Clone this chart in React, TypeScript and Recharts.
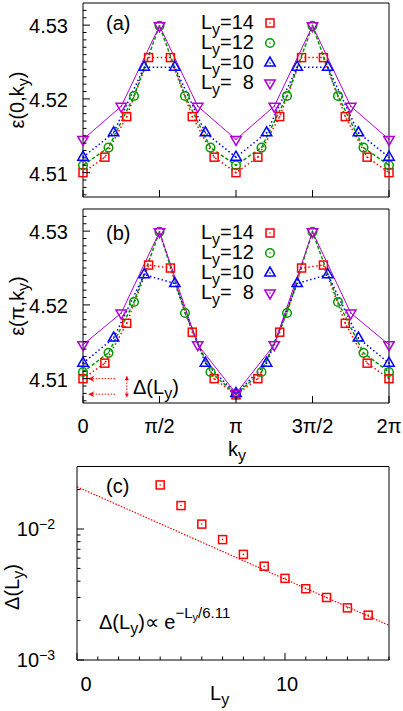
import React from "react";
import {
    LineChart,
    ComposedChart,
    Line,
    Scatter,
    XAxis,
    YAxis,
    Legend,
    ReferenceLine,
} from "recharts";

const PI = Math.PI;
const FONT = '"Liberation Sans", Arial, Helvetica, sans-serif';
const W = 403;

// system widths L_y shown in panels (a) and (b)
const sizes = [14, 12, 10, 8];

// panel (a): eps(0, k_y), point n sits at k_y = 2*pi*n/L_y
const epsZero14 = [4.51, 4.5121, 4.5176, 4.5256, 4.5256, 4.5176, 4.5121, 4.51, 4.5121, 4.5176, 4.5256, 4.5256, 4.5176, 4.5121, 4.51];
const epsZero12 = [4.511, 4.5134, 4.5204, 4.5299, 4.5204, 4.5134, 4.511, 4.5134, 4.5204, 4.5299, 4.5204, 4.5134, 4.511];
const epsZero10 = [4.5121, 4.5154, 4.5243, 4.5243, 4.5154, 4.5121, 4.5154, 4.5243, 4.5243, 4.5154, 4.5121];
const epsZero8 = [4.5145, 4.519, 4.5299, 4.519, 4.5145, 4.519, 4.5299, 4.519, 4.5145];

// panel (b): eps(pi, k_y)
const epsPi14 = [4.51, 4.5121, 4.5175, 4.5254, 4.525, 4.5163, 4.51, 4.5078, 4.51, 4.5163, 4.525, 4.5254, 4.5175, 4.5121, 4.51];
const epsPi12 = [4.5109, 4.5135, 4.5204, 4.5299, 4.5189, 4.5109, 4.5079, 4.5109, 4.5189, 4.5299, 4.5204, 4.5135, 4.5109];
const epsPi10 = [4.5121, 4.5155, 4.5241, 4.5229, 4.5121, 4.508, 4.5121, 4.5229, 4.5241, 4.5155, 4.5121];
const epsPi8 = [4.5146, 4.5189, 4.5299, 4.5146, 4.508, 4.5146, 4.5299, 4.5189, 4.5146];

// panel (c): gap vs L_y, and the exponential fit (straight on the log axis)
const gapSizes = [4, 5, 6, 7, 8, 9, 10, 11, 12, 13, 14];
const gapValues = [0.0217, 0.0151, 0.0109, 0.0083, 0.0064, 0.0052, 0.0042, 0.0035, 0.003, 0.0025, 0.0022];
const fitSizes = [0, 15];
const fitValues = [0.021, 0.00184];

// ticks
const kTicks = [0, PI / 2, PI, 1.5 * PI, 2 * PI];
const kTickLabels = ["0", "π/2", "π", "3π/2", "2π"];
const epsTicks = [4.51, 4.52, 4.53];
const epsDomain = [4.5067, 4.533];
const epsAllTicks = Array.from({ length: 26 }, (_, i) => (4507 + i) / 1000);
const gapTicks = [0.001, 0.01];
const gapTickExps = ["−3", "−2"];
const gapAllTicks = [0.001, 0.002, 0.003, 0.004, 0.005, 0.006, 0.007, 0.008, 0.009, 0.01, 0.02, 0.03];
const sizeTicks = [0, 10];
const sizeTickLabels = ["0", "10"];
const sizeAllTicks = Array.from({ length: 16 }, (_, i) => i);

type Shape = "square" | "circle" | "up" | "down";

const styles: Record<number, { color: string; shape: Shape; dash?: string; width: number }> = {
    14: { color: "#ff0000", shape: "square", dash: "1.5 2.5", width: 1.5 },
    12: { color: "#009a00", shape: "circle", dash: "3.5 2", width: 1.5 },
    10: { color: "#0000ff", shape: "up", dash: "1.5 2.5", width: 1.5 },
    8: { color: "#b000d0", shape: "down", width: 1 },
};

const Marker = ({ shape, cx, cy, color }: { shape: Shape; cx: number; cy: number; color: string }) => {
    const common = { fill: "none", stroke: color, strokeWidth: 1.5 };
    let body;
    if (shape === "square") body = <rect x={cx - 4} y={cy - 4} width={8} height={8} {...common} />;
    else if (shape === "circle") body = <circle cx={cx} cy={cy} r={4.3} {...common} />;
    else if (shape === "up")
        body = <polygon points={`${cx},${cy - 6} ${cx - 5.2},${cy + 3} ${cx + 5.2},${cy + 3}`} {...common} />;
    else body = <polygon points={`${cx},${cy + 6} ${cx - 5.2},${cy - 3} ${cx + 5.2},${cy - 3}`} {...common} />;
    return (
        <g>
            {body}
            <circle cx={cx} cy={cy} r={0.8} fill={color} />
        </g>
    );
};

type Side = "left" | "right" | "top" | "bottom";

// gnuplot-like ticks: drawn inward from the frame, minor ones shorter
const makeTick =
    (side: Side, majors: number[], label?: (v: number, x: number, y: number) => React.ReactNode) =>
    (props: any) => {
        const { x, y, payload } = props;
        const v = payload.value;
        const isMajor = majors.some((m) => Math.abs(m - v) < 1e-9);
        const len = isMajor ? 7 : 3.5;
        let x2 = x;
        let y2 = y;
        if (side === "left") x2 = x + len;
        if (side === "right") x2 = x - len;
        if (side === "bottom") y2 = y - len;
        if (side === "top") y2 = y + len;
        return (
            <g>
                <line x1={x} y1={y} x2={x2} y2={y2} stroke="#000" strokeWidth={1} />
                {isMajor && label ? label(v, x, y) : null}
            </g>
        );
    };

const txt = { fontFamily: FONT, fontSize: 20, fill: "#000" };

const epsLabel = (v: number, x: number, y: number) => (
    <text x={x - 15} y={y + 8} textAnchor="end" {...txt}>
        {v.toFixed(2)}
    </text>
);

const kLabel = (v: number, x: number, y: number) => {
    const i = kTicks.findIndex((t) => Math.abs(t - v) < 1e-9);
    return (
        <text x={x} y={y + 30} textAnchor="middle" {...txt}>
            {kTickLabels[i]}
        </text>
    );
};

const gapLabel = (v: number, x: number, y: number) => {
    const i = gapTicks.findIndex((t) => Math.abs(t - v) < 1e-12);
    return (
        <text x={x - 22} y={y + 7} textAnchor="end" {...txt}>
            10
            <tspan dy={-7} fontSize={14}>
                {gapTickExps[i]}
            </tspan>
        </text>
    );
};

const sizeLabel = (v: number, x: number, y: number) => {
    const i = sizeTicks.indexOf(v);
    return (
        <text x={x + (v === 0 ? 9 : 2)} y={y + 31} textAnchor="middle" {...txt}>
            {sizeTickLabels[i]}
        </text>
    );
};

// axes are 1px thick so recharts draws them; margins below account for that pixel
const axisLine = { stroke: "#000", strokeWidth: 1 };
const bare = { tickSize: 0, tickMargin: 0, tickLine: false, interval: 0 as const, axisLine };

const LegendBox = () => (
    <div style={{ fontFamily: FONT, fontSize: 20, color: "#000" }}>
        {sizes.map((L) => (
            <div key={L} style={{ display: "flex", alignItems: "center", height: 20 }}>
                <span style={{ width: 64, textAlign: "right", whiteSpace: "pre", lineHeight: "20px" }}>
                    L<span style={{ fontSize: 16, position: "relative", top: 6 }}>y</span>
                    {L < 10 ? `=  ${L}` : `=${L}`}
                </span>
                <svg width={32} height={20}>
                    <Marker shape={styles[L].shape} cx={16} cy={10} color={styles[L].color} />
                </svg>
            </div>
        ))}
    </div>
);

interface PanelProps {
    values: Record<number, number[]>;
    height: number;
    bottom: number;
    tag: string;
    tagY: number;
    legendTop: number;
    yTitle: React.ReactNode;
    withKLabels?: boolean;
    extra?: React.ReactNode;
}

const EnergyPanel = ({ values, height, bottom, tag, tagY, legendTop, yTitle, withKLabels, extra }: PanelProps) => (
    <LineChart width={W} height={height} margin={{ top: 2, right: 13, bottom: bottom - 1, left: 82 }}>
        <defs>
            <marker id="headL" viewBox="0 0 10 10" refX="9" refY="5" markerWidth="8" markerHeight="6"
                markerUnits="userSpaceOnUse" orient="auto-start-reverse">
                <path d="M0,0 L10,5 L0,10 L3,5 z" fill="#ff0000" />
            </marker>
            <marker id="headS" viewBox="0 0 10 10" refX="9" refY="5" markerWidth="5" markerHeight="4"
                markerUnits="userSpaceOnUse" orient="auto-start-reverse">
                <path d="M0,0 L10,5 L0,10 z" fill="#ff0000" />
            </marker>
        </defs>
        <XAxis xAxisId="k" dataKey="k" type="number" domain={[0, 2 * PI]} ticks={kTicks} height={1} {...bare}
            tick={makeTick("bottom", kTicks, withKLabels ? kLabel : undefined)} />
        <XAxis xAxisId="kTop" orientation="top" type="number" domain={[0, 2 * PI]} ticks={kTicks} height={1}
            {...bare} tick={makeTick("top", kTicks)} />
        <YAxis yAxisId="e" type="number" domain={epsDomain} ticks={epsAllTicks} width={1} {...bare}
            tick={makeTick("left", epsTicks, epsLabel)} />
        <YAxis yAxisId="eR" orientation="right" type="number" domain={epsDomain} ticks={epsAllTicks} width={1}
            {...bare} tick={makeTick("right", epsTicks)} />
        {sizes.map((L) => {
            const s = styles[L];
            return (
                <Line
                    key={L}
                    xAxisId="k"
                    yAxisId="e"
                    data={values[L].map((v, n) => ({ k: (2 * PI * n) / L, v }))}
                    dataKey="v"
                    type="linear"
                    stroke={s.color}
                    strokeWidth={s.width}
                    strokeDasharray={s.dash}
                    activeDot={false}
                    dot={(p: any) => <Marker key={p.index} shape={s.shape} cx={p.cx} cy={p.cy} color={s.color} />}
                    isAnimationActive={false}
                />
            );
        })}
        {extra}
        <Legend
            layout="vertical"
            align="center"
            verticalAlign="middle"
            wrapperStyle={{ left: 190, top: legendTop, width: 100, height: 82 }}
            content={() => <LegendBox />}
        />
        <text x={106} y={tagY} {...txt}>
            {tag}
        </text>
        {yTitle}
    </LineChart>
);

const arrowStyle = { stroke: "#ff0000", strokeWidth: 1, strokeDasharray: "1.5 1.5" };

const gapArrows = (
    <>
        <ReferenceLine xAxisId="k" yAxisId="e" segment={[{ x: 0.66, y: 4.51 }, { x: 0.12, y: 4.51 }]}
            {...arrowStyle} markerEnd="url(#headL)" />
        <ReferenceLine xAxisId="k" yAxisId="e" segment={[{ x: 0.66, y: 4.5079 }, { x: 0.12, y: 4.5079 }]}
            {...arrowStyle} markerEnd="url(#headL)" />
        <ReferenceLine xAxisId="k" yAxisId="e" segment={[{ x: 0.9, y: 4.5103 }, { x: 0.9, y: 4.5075 }]}
            {...arrowStyle} markerStart="url(#headS)" markerEnd="url(#headS)" />
        <text x={133} y={188} {...txt}>
            Δ(L<tspan dy={5} fontSize={16}>y</tspan>
            <tspan dy={-5}>)</tspan>
        </text>
        <text x={228} y={250} {...txt}>
            k<tspan dy={5} fontSize={16}>y</tspan>
        </text>
    </>
);

const App = () => (
    <div style={{ position: "absolute", left: 0, top: 0, width: W, height: 711, background: "#fff" }}>
        <div style={{ position: "absolute", left: 0, top: 0 }}>
            <EnergyPanel
                values={{ 14: epsZero14, 12: epsZero12, 10: epsZero10, 8: epsZero8 }}
                height={206}
                bottom={9}
                tag="(a)"
                tagY={30}
                legendTop={12.5}
                yTitle={
                    <text transform="translate(24,100) rotate(-90)" textAnchor="middle" {...txt}>
                        ε(0,k<tspan dy={5} fontSize={16}>y</tspan>
                        <tspan dy={-5}>)</tspan>
                    </text>
                }
            />
        </div>
        <div style={{ position: "absolute", left: 0, top: 206 }}>
            <EnergyPanel
                values={{ 14: epsPi14, 12: epsPi12, 10: epsPi10, 8: epsPi8 }}
                height={258}
                bottom={61}
                tag="(b)"
                tagY={34}
                legendTop={17}
                withKLabels
                extra={gapArrows}
                yTitle={
                    <text transform="translate(24,100) rotate(-90)" textAnchor="middle" {...txt}>
                        ε(π,k<tspan dy={5} fontSize={16}>y</tspan>
                        <tspan dy={-5}>)</tspan>
                    </text>
                }
            />
        </div>
        <div style={{ position: "absolute", left: 0, top: 460 }}>
            <ComposedChart width={W} height={251} margin={{ top: 5.5, right: 13, bottom: 50, left: 76 }}>
                <XAxis xAxisId="L" dataKey="L" type="number" domain={[0, 15]} ticks={sizeAllTicks} height={1}
                    {...bare} tick={makeTick("bottom", sizeTicks, sizeLabel)} />
                <XAxis xAxisId="LTop" orientation="top" type="number" domain={[0, 15]} ticks={sizeAllTicks}
                    height={1} {...bare} tick={makeTick("top", sizeTicks)} />
                <YAxis yAxisId="d" dataKey="d" type="number" scale="log" domain={[0.001, 0.03]} ticks={gapAllTicks}
                    width={1} {...bare} tick={makeTick("left", gapTicks, gapLabel)} />
                <YAxis yAxisId="dR" orientation="right" type="number" scale="log" domain={[0.001, 0.03]}
                    ticks={gapAllTicks} width={1} {...bare} tick={makeTick("right", gapTicks)} />
                <Line
                    xAxisId="L"
                    yAxisId="d"
                    data={fitSizes.map((L, i) => ({ L, d: fitValues[i] }))}
                    dataKey="d"
                    type="linear"
                    stroke="#ff0000"
                    strokeWidth={1.2}
                    strokeDasharray="1.5 1.5"
                    dot={false}
                    activeDot={false}
                    isAnimationActive={false}
                />
                <Scatter
                    xAxisId="L"
                    yAxisId="d"
                    data={gapSizes.map((L, i) => ({ L, d: gapValues[i] }))}
                    dataKey="d"
                    shape={(p: any) => <Marker shape="square" cx={p.cx} cy={p.cy} color="#ff0000" />}
                    isAnimationActive={false}
                />
                <text x={106} y={33} {...txt}>
                    (c)
                </text>
                <text x={99} y={169} {...txt}>
                    Δ(L<tspan dy={5} fontSize={16}>y</tspan>
                    <tspan dy={-5}>)∝ e</tspan>
                    <tspan dy={-11} fontSize={15}>−L</tspan>
                    <tspan dy={3} fontSize={11}>y</tspan>
                    <tspan dy={-3} fontSize={15}>/6.11</tspan>
                </text>
                <text transform="translate(19,127) rotate(-90)" textAnchor="middle" {...txt}>
                    Δ(L<tspan dy={5} fontSize={16}>y</tspan>
                    <tspan dy={-5}>)</tspan>
                </text>
                <text x={210} y={240} {...txt}>
                    L<tspan dy={5} fontSize={16}>y</tspan>
                </text>
            </ComposedChart>
        </div>
    </div>
);

export default App;
